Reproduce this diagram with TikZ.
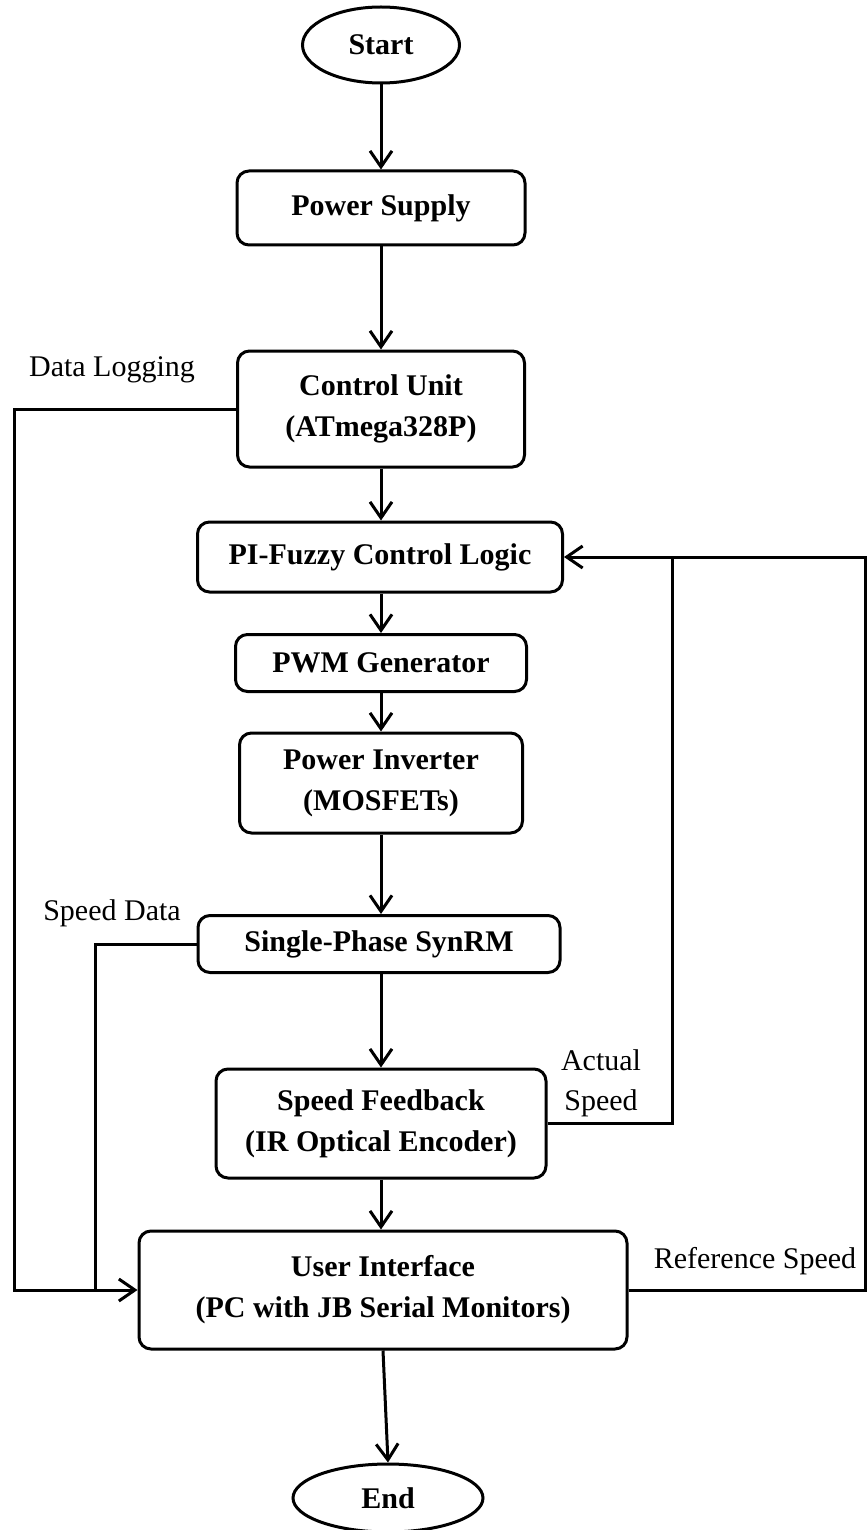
\documentclass[tikz,border=0pt]{standalone}
\usepackage{fontspec}
\setmainfont{Liberation Serif}
\usetikzlibrary{arrows.meta,shapes.geometric}
\begin{document}
\begin{tikzpicture}[x=0.5pt,y=-0.5pt,
  line width=1.5pt,
  box/.style={draw,rounded corners=6pt,inner sep=0pt,align=center,
    font=\fontsize{15}{20.5}\selectfont\bfseries},
  term/.style={draw,ellipse,inner sep=0pt,align=center,
    font=\fontsize{15}{20.5}\selectfont\bfseries},
  lbl/.style={inner sep=0pt,align=center,font=\fontsize{15}{20}\selectfont},
  arr/.style={-{Straight Barb[length=8pt,width=11pt]}}]
\useasboundingbox (0,0) rectangle (867,1530);
\node[term,minimum width=78.5pt,minimum height=38pt] (start) at (381,45) {Start};
\node[box,minimum width=144pt,minimum height=37pt] (ps) at (381,208) {Power Supply};
\node[box,minimum width=143.5pt,minimum height=58pt] (cu) at (381,409) {Control Unit\\(ATmega328P)};
\node[box,minimum width=182.5pt,minimum height=35pt] (pi) at (380,557) {PI-Fuzzy Control Logic};
\node[box,minimum width=145.5pt,minimum height=28.5pt] (pwm) at (381,663) {PWM Generator};
\node[box,minimum width=141.5pt,minimum height=50pt] (inv) at (381,783) {Power Inverter\\(MOSFETs)};
\node[box,minimum width=181pt,minimum height=28.5pt] (syn) at (379,944) {Single-Phase SynRM};
\node[box,minimum width=165pt,minimum height=54.5pt] (sf) at (381,1123.5) {Speed Feedback\\(IR Optical Encoder)};
\node[box,minimum width=244pt,minimum height=59pt] (ui) at (383,1290) {User Interface\\(PC with JB Serial Monitors)};
\node[term,minimum width=95pt,minimum height=34pt] (end) at (388,1498) {End};

\draw[arr] (start) -- (ps);
\draw[arr] (ps) -- (cu);
\draw[arr] (cu.south) -- (cu.south |- pi.north);
\draw[arr] (pi.south -| pwm.north) -- (pwm.north);
\draw[arr] (pwm) -- (inv);
\draw[arr] (inv.south) -- (inv.south |- syn.north);
\draw[arr] (syn.south -| sf.north) -- (sf.north);
\draw[arr] (sf.south) -- (sf.south |- ui.north);
\draw[arr] (ui.south) -- (end.north);

\coordinate (dlc) at (14,409);
\coordinate (sdc) at (95,944);
\coordinate (asc) at (672,1123.5);
\coordinate (rsc) at (865,1290);

\draw[arr] (cu.west) -- (dlc) |- (ui.west);
\draw (syn.west) -- (sdc) -- (sdc |- ui.west);
\draw (sf.east) -- (asc) -- (asc |- pi.east);
\draw[arr] (ui.east) -- (rsc) |- (pi.east);

\node[lbl] (ldl) at (112,370) {Data Logging};
\node[lbl] (lsd) at (112,913) {Speed Data};
\node[lbl] (las) at (601,1083) {Actual\\Speed};
\node[lbl] (lrs) at (755,1261) {Reference Speed};
\end{tikzpicture}
\end{document}
